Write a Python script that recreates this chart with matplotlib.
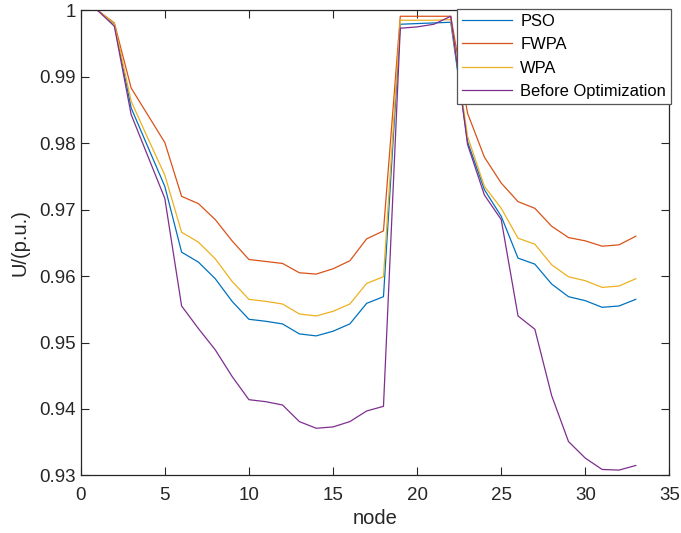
import numpy as np
import matplotlib.pyplot as plt

plt.rcParams['font.family'] = ['Liberation Sans', 'DejaVu Sans']

# node voltages (p.u.)
node = np.arange(1, 34)

pso = [1.0, 0.9979, 0.9853, 0.9794, 0.9735, 0.9636, 0.9621, 0.9596, 0.9562, 0.9535,
       0.9532, 0.9528, 0.9513, 0.9510, 0.9517, 0.9528, 0.9559, 0.9569, 0.9979, 0.9980,
       0.9981, 0.9982, 0.9802, 0.9730, 0.9690, 0.9627, 0.9618, 0.9588, 0.9569, 0.9563,
       0.9553, 0.9555, 0.9565]
fwpa = [1.0, 0.9981, 0.9883, 0.9842, 0.9801, 0.9720, 0.9709, 0.9685, 0.9653, 0.9625,
        0.9622, 0.9619, 0.9605, 0.9603, 0.9611, 0.9623, 0.9656, 0.9668, 0.9991, 0.9991,
        0.9991, 0.9991, 0.9845, 0.9779, 0.9740, 0.9712, 0.9702, 0.9675, 0.9658, 0.9653,
        0.9645, 0.9647, 0.9660]
wpa = [1.0, 0.9980, 0.9863, 0.9807, 0.9752, 0.9666, 0.9651, 0.9626, 0.9592, 0.9565,
       0.9562, 0.9558, 0.9543, 0.9540, 0.9547, 0.9558, 0.9589, 0.9599, 0.9985, 0.9985,
       0.9985, 0.9986, 0.9810, 0.9735, 0.9702, 0.9657, 0.9648, 0.9617, 0.9599, 0.9593,
       0.9583, 0.9585, 0.9596]
before = [1.0, 0.9976, 0.9843, 0.9780, 0.9717, 0.9555, 0.9521, 0.9489, 0.9449, 0.9414,
          0.9411, 0.9406, 0.9381, 0.9371, 0.9373, 0.9381, 0.9397, 0.9404, 0.9973, 0.9975,
          0.9979, 0.9991, 0.9798, 0.9722, 0.9685, 0.9540, 0.9520, 0.9420, 0.9351, 0.9326,
          0.9309, 0.9308, 0.9315]

labels = ['PSO', 'FWPA', 'WPA', 'Before Optimization']
colors = ['#0072BD', '#D95319', '#EDB120', '#7E2F8E']
axcol = '#262626'

fig = plt.figure(figsize=(6.81, 5.33), dpi=100)
ax = fig.add_axes([0.1185, 0.108, 0.8645, 0.8727])

for y, lab, c in zip([pso, fwpa, wpa, before], labels, colors):
    ax.plot(node, y, color=c, lw=0.9, label=lab)

ax.set_xlim(0, 35)
ax.set_ylim(0.93, 1.0)
ax.set_xticks(np.arange(0, 36, 5))
ax.set_yticks(np.arange(0.93, 1.0001, 0.01))
ax.set_yticklabels(['0.93', '0.94', '0.95', '0.96', '0.97', '0.98', '0.99', '1'])
ax.tick_params(direction='in', length=6, width=0.8, top=True, right=True,
               labelsize=13.5, colors=axcol)
ax.tick_params(axis='x', pad=8)
ax.tick_params(axis='y', pad=3.5)
for s in ax.spines.values():
    s.set_color(axcol)
    s.set_linewidth(0.9)

ax.set_xlabel('node', fontsize=14.5, color=axcol, labelpad=4)
ax.set_ylabel('U/(p.u.)', fontsize=14.5, color=axcol, labelpad=7)

leg = ax.legend(loc='upper right', bbox_to_anchor=(0.9853, 0.983),
                bbox_transform=fig.transFigure, borderaxespad=0,
                fontsize=11.9, handlelength=3.0, handletextpad=0.5,
                borderpad=0.3, labelspacing=0.5, fancybox=False,
                framealpha=1, edgecolor='#555555')
leg.get_frame().set_linewidth(0.9)

fig.savefig('out.png', dpi=100)
